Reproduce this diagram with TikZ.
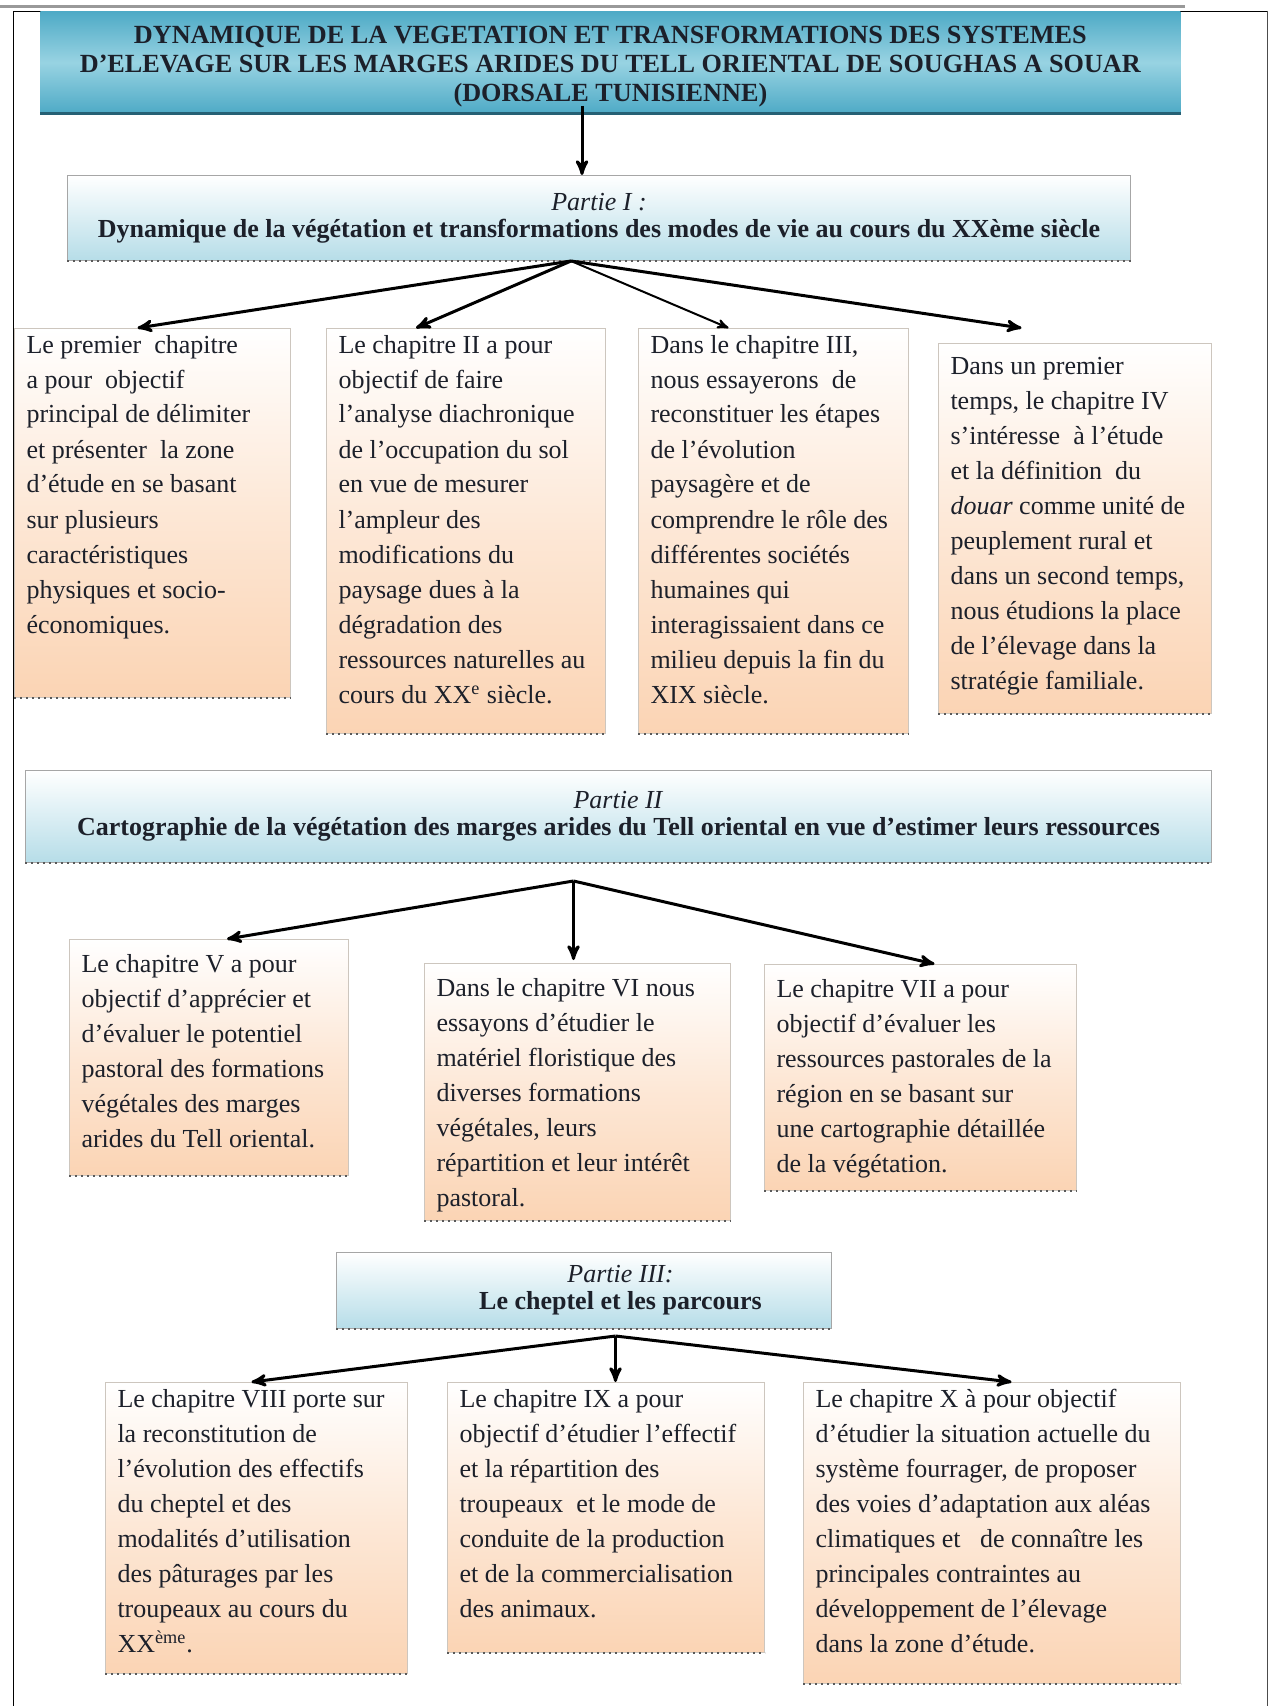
\documentclass[tikz,border=0pt]{standalone}
\usepackage{fontspec}
\setmainfont{Liberation Serif}
\usetikzlibrary{arrows}

\definecolor{peach}{RGB}{251,212,180}
\definecolor{lightblue}{RGB}{182,221,232}
\definecolor{tealA}{RGB}{78,170,198}
\definecolor{tealB}{RGB}{152,211,226}
\definecolor{tealD}{RGB}{38,96,116}
\definecolor{boxline}{RGB}{205,198,190}
\definecolor{inkdark}{RGB}{28,32,42}

\tikzset{
	dotbase/.style={draw=black!65,dotted,line width=1pt},
	chap/.style 2 args={draw=boxline,line width=0.5pt,top color=white,bottom color=peach,middle color=peach!55,
		anchor=north west,inner xsep=6pt,inner ysep=0pt,text=inkdark,
		execute at begin node={\begin{minipage}[t][#2pt][t]{#1pt}\fontsize{13pt}{17.5pt}\selectfont\raggedright\strut},
		execute at end node={\end{minipage}},
		append after command={(\tikzlastnode.south west) edge[dotbase] (\tikzlastnode.south east)}},
	partie/.style 2 args={draw=black!35,line width=0.5pt,top color=white,bottom color=lightblue,
		anchor=north west,minimum width=#1pt,minimum height=#2pt,inner sep=0pt,align=center,text=inkdark,
		font=\fontsize{13pt}{13.5pt}\selectfont,
		append after command={(\tikzlastnode.south west) edge[dotbase] (\tikzlastnode.south east)}},
	titre/.style={top color=tealA,bottom color=tealA,middle color=tealB,
		anchor=north west,minimum width=570pt,minimum height=51pt,inner sep=0pt,align=center,text=inkdark,
		text height=39pt,text depth=0pt,font=\bfseries\fontsize{13.1pt}{14.5pt}\selectfont,
		append after command={(\tikzlastnode.south west) edge[draw=tealD,line width=1.5pt] (\tikzlastnode.south east)}}
}

\begin{document}
\begin{tikzpicture}[x=0.5pt,y=-0.5pt]
		\useasboundingbox (0,0) rectangle (1268,1706);
		
		\draw[black!40,line width=1.5pt] (0,7) -- (1185,7);
		\draw[black,line width=0.4pt] (13,1706) -- (13,11) -- (1268,11);
		\draw[black!70,line width=0.4pt] (1267,11) -- (1267,1706);
		
		\node[titre] (titre) at (40,11) {DYNAMIQUE DE LA VEGETATION ET TRANSFORMATIONS DES SYSTEMES\\D'ELEVAGE SUR LES MARGES ARIDES DU TELL ORIENTAL DE SOUGHAS A SOUAR\\(DORSALE TUNISIENNE)};
		
		\node[partie={531.5}{42.5}] (p1) at (67,175) {\textit{Partie I :}\\\textbf{Dynamique de la végétation et transformations des modes de vie au cours du XXème siècle}};
		
		\node[chap={126}{184.5}] (c1) at (14,328) {Le premier\ \ chapitre\\a pour\ \ objectif\\principal de délimiter\\et présenter\ \ la zone\\d'étude en se basant\\sur plusieurs\\caractéristiques\\physiques et socio-\\économiques.};
		\node[chap={127.5}{202.5}] (c2) at (326,328) {Le chapitre II a pour\\objectif de faire\\l'analyse diachronique\\de l'occupation du sol\\en vue de mesurer\\l'ampleur des\\modifications du\\paysage dues à la\\dégradation des\\ressources naturelles au\\cours du XX\textsuperscript{e} siècle.};
		\node[chap={123}{202.5}] (c3) at (638,328) {Dans le chapitre III,\\nous essayerons\ \ de\\reconstituer les étapes\\de l'évolution\\paysagère et de\\comprendre le rôle des\\différentes sociétés\\humaines qui\\interagissaient dans ce\\milieu depuis la fin du\\XIX siècle.};
		\node[chap={124.5}{179},inner ysep=3pt] (c4) at (938,343) {Dans un premier\\temps, le chapitre IV\\s'intéresse\ \ à l'étude\\et la définition\ \ du\\\textit{douar} comme unité de\\peuplement rural et\\dans un second temps,\\nous étudions la place\\de l'élevage dans la\\stratégie familiale.};
		
		\node[partie={593}{46}] (p2) at (25,770) {\textit{Partie II}\\\textbf{Cartographie de la végétation des marges arides du Tell oriental en vue d'estimer leurs ressources}};
		
		\node[chap={127.5}{110},inner ysep=4pt] (c5) at (69,939) {Le chapitre V a pour\\objectif d'apprécier et\\d'évaluer le potentiel\\pastoral des formations\\végétales des marges\\arides du Tell oriental.};
		\node[chap={141}{120.5},inner ysep=4pt] (c6) at (424,963) {Dans le chapitre VI nous\\essayons d'étudier le\\matériel floristique des\\diverses formations\\végétales, leurs\\répartition et leur intérêt\\pastoral.};
		\node[chap={144}{105},inner ysep=4pt] (c7) at (764,964) {Le chapitre VII a pour\\objectif d'évaluer les\\ressources pastorales de la\\région en se basant sur\\une cartographie détaillée\\de la végétation.};
		
		\node[partie={247.5}{38}] (p3) at (336,1252) {\hspace*{36.5pt}\textit{Partie III:}\\\hspace*{36.5pt}\textbf{Le cheptel et les parcours}};
		
		\node[chap={139}{145.5}] (c8) at (105,1382) {Le chapitre VIII porte sur\\la reconstitution de\\l'évolution des effectifs\\du cheptel et des\\modalités d'utilisation\\des pâturages par les\\troupeaux au cours du\\XX\textsuperscript{ème}.};
		\node[chap={146.5}{135}] (c9) at (447,1382) {Le chapitre IX a pour\\objectif d'étudier l'effectif\\et la répartition des\\troupeaux\ \ et le mode de\\conduite de la production\\et de la commercialisation\\des animaux.};
		\node[chap={176.5}{150.5}] (c10) at (803,1382) {Le chapitre X à pour objectif\\d'étudier la situation actuelle du\\système fourrager, de proposer\\des voies d'adaptation aux aléas\\climatiques et\ \ \ de connaître les\\principales contraintes au\\développement de l'élevage\\dans la zone d'étude.};
		
		\coordinate (a0) at ([xshift=-8.5pt]p1.north);
		\coordinate (f1) at ([xshift=-14pt]p1.south);
		\coordinate (a1) at ([xshift=-7.5pt]c1.north);
		\coordinate (a2) at ([xshift=-25pt]c2.north);
		\coordinate (a3) at ([xshift=-22.5pt]c3.north);
		\coordinate (a4) at ([shift={(-26.75pt,7.5pt)}]c4.north);
		\coordinate (f2) at ([shift={(-22.5pt,-9pt)}]p2.south);
		\coordinate (a5) at ([xshift=9pt]c5.north);
		\coordinate (a6) at ([shift={(-2pt,1.5pt)}]c6.north);
		\coordinate (a7) at ([xshift=7pt]c7.north);
		\coordinate (f3) at ([shift={(15.75pt,-3.5pt)}]p3.south);
		\coordinate (a8) at ([xshift=-2.5pt]c8.north);
		\coordinate (a9) at ([xshift=4.75pt]c9.north);
		\coordinate (a10) at ([xshift=9.75pt]c10.north);
		
		\draw[->,>=stealth',line width=1.5pt] (a0 |- titre.south) ++(0,-8) -- (a0);
		
		\path[->,>=stealth',line width=1.5pt]
			(f1) edge (a1)
			(f1) edge (a2)
			(f1) edge (a4);
		\path[->,>=stealth',line width=1pt]
			(f1) edge (a3);
		
		\foreach \t in {a5,a6,a7}
		{
			\path[->,>=stealth',line width=1.5pt]
				(f2) edge (\t);
		}
		
		\foreach \t in {a8,a9,a10}
		{
			\path[->,>=stealth',line width=1.5pt]
				(f3) edge (\t);
		}
\end{tikzpicture}
\end{document}
